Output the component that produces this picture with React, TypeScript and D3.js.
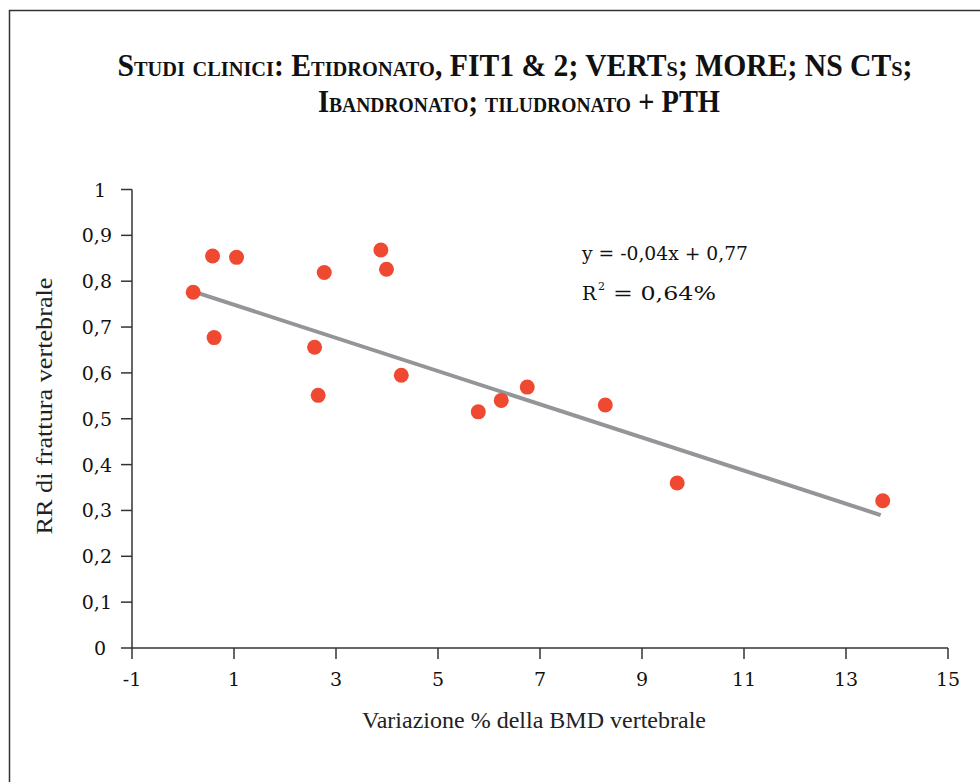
import React from "react";
import * as d3 from "d3";

const bmdChange = [0.2, 0.58, 1.05, 0.61, 2.77, 2.58, 2.65, 3.88, 3.99, 4.28, 5.79, 6.24, 6.75, 8.28, 9.69, 13.72];
const fractureRR = [0.776, 0.855, 0.852, 0.677, 0.819, 0.656, 0.551, 0.868, 0.826, 0.595, 0.515, 0.54, 0.569, 0.53, 0.36, 0.321];
const trendX = [0.3, 13.68];
const trendY = [0.774, 0.29];
const xTicks = [-1, 1, 3, 5, 7, 9, 11, 13, 15];
const yTicks = [0, 0.1, 0.2, 0.3, 0.4, 0.5, 0.6, 0.7, 0.8, 0.9, 1];
const titleLines = ["Studi clinici: Etidronato, FIT1 & 2; VERTs; MORE; NS CTs;", "Ibandronato; tiludronato + PTH"];
const xTitle = "Variazione % della BMD vertebrale";
const yTitle = "RR di frattura vertebrale";
const eqText = "y = -0,04x + 0,77";
const r2Text = "= 0,64%";

const W = 980;
const H = 782;
const x = d3.scaleLinear().domain([-1, 15]).range([132, 948]);
const y = d3.scaleLinear().domain([0, 1]).range([648, 189.5]);
const fmt = (v: number) => (v === 0 ? "0" : v === 1 ? "1" : d3.format(".1f")(v).replace(".", ","));

const tickFont = "'DejaVu Serif', serif";
const titleFont = "'Liberation Serif', 'Times New Roman', serif";

export default function App() {
  const line = d3.line<number>().x((_, i) => x(trendX[i])).y((_, i) => y(trendY[i]));
  return (
    <svg width={W} height={H} style={{ position: "absolute", left: 0, top: 0, background: "#fff" }}>
      <rect x={9.5} y={10.5} width={1100} height={900} fill="#fff" stroke="#333" strokeWidth={1.5} />
      <text x={515} y={76} textAnchor="middle" fontFamily={titleFont} fontWeight="bold" fontSize={32}
        style={{ fontVariant: "small-caps" }} textLength={795} lengthAdjust="spacingAndGlyphs" fill="#111">
        {titleLines[0]}
      </text>
      <text x={519} y={112} textAnchor="middle" fontFamily={titleFont} fontWeight="bold" fontSize={32}
        style={{ fontVariant: "small-caps" }} textLength={402} lengthAdjust="spacingAndGlyphs" fill="#111">
        {titleLines[1]}
      </text>
      {/* axes */}
      <line x1={x(-1)} x2={x(15)} y1={y(0)} y2={y(0)} stroke="#333" strokeWidth={1.5} />
      <line x1={x(-1)} x2={x(-1)} y1={y(0)} y2={y(1)} stroke="#333" strokeWidth={1.5} />
      {yTicks.map((t) => (
        <g key={"y" + t}>
          <line x1={x(-1) - 11} x2={x(-1)} y1={y(t)} y2={y(t)} stroke="#333" strokeWidth={1.5} />
          <text x={t === 0 || t === 1 ? 106 : 112} y={y(t) + 7} textAnchor="end" fontFamily={tickFont} fontSize={19} fill="#111">
            {fmt(t)}
          </text>
        </g>
      ))}
      {xTicks.map((t) => (
        <g key={"x" + t}>
          <line x1={x(t)} x2={x(t)} y1={y(0)} y2={y(0) + 11} stroke="#333" strokeWidth={1.5} />
          <text x={x(t)} y={686} textAnchor="middle" fontFamily={tickFont} fontSize={19} fill="#111">
            {t}
          </text>
        </g>
      ))}
      <text x={534} y={728} textAnchor="middle" fontFamily={titleFont} fontSize={23} fill="#222"
        textLength={344} lengthAdjust="spacingAndGlyphs">
        {xTitle}
      </text>
      <text transform="translate(52,406) rotate(-90)" textAnchor="middle" fontFamily={titleFont} fontSize={23}
        fill="#222" textLength={257} lengthAdjust="spacingAndGlyphs">
        {yTitle}
      </text>
      {/* trend line */}
      <path d={line(trendX) || ""} fill="none" stroke="#939598" strokeWidth={4} />
      {bmdChange.map((v, i) => (
        <circle key={i} cx={x(v)} cy={y(fractureRR[i])} r={7.5} fill="#EF4A31" />
      ))}
      <text x={582} y={260} fontFamily={tickFont} fontSize={19} fill="#111" textLength={166} lengthAdjust="spacingAndGlyphs">
        {eqText}
      </text>
      <text x={582} y={300} fontFamily={tickFont} fontSize={19} fill="#111">R</text>
      <text x={598} y={290} fontFamily={tickFont} fontSize={11} fill="#111">2</text>
      <text x={613} y={300} fontFamily={tickFont} fontSize={19} fill="#111" textLength={103} lengthAdjust="spacingAndGlyphs">
        {r2Text}
      </text>
    </svg>
  );
}
